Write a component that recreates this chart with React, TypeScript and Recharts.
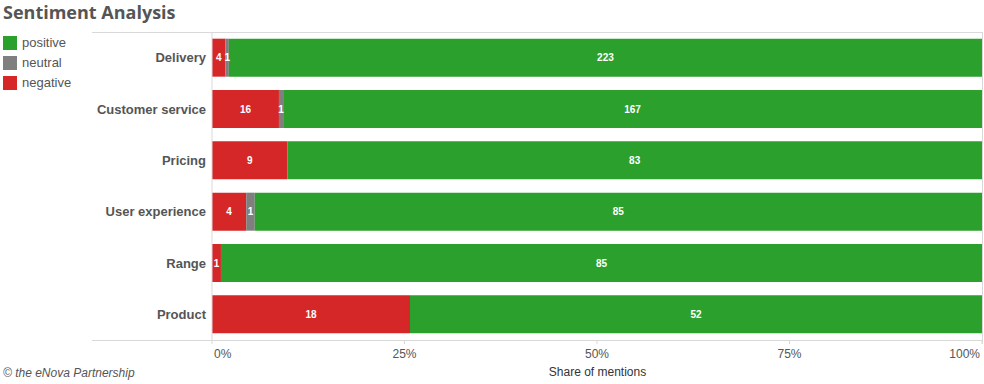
import React from "react";
import { BarChart, Bar, XAxis, YAxis, LabelList } from "recharts";

// Chart data
const categories = [
  "Delivery",
  "Customer service",
  "Pricing",
  "User experience",
  "Range",
  "Product",
];
const negative = [4, 16, 9, 4, 1, 18];
const neutral = [1, 1, 0, 1, 0, 0];
const positive = [223, 167, 83, 85, 85, 52];
const xTicks = [0, 0.25, 0.5, 0.75, 1];
const xTickLabels = ["0%", "25%", "50%", "75%", "100%"];

const colors = { positive: "#2ca02c", neutral: "#7f7f7f", negative: "#d62728" };
const legendItems = [
  { key: "positive", label: "positive" },
  { key: "neutral", label: "neutral" },
  { key: "negative", label: "negative" },
];

const data = categories.map((name, i) => ({
  name,
  negative: negative[i],
  neutral: neutral[i],
  positive: positive[i],
}));

const FONT = "Arial, 'Liberation Sans', sans-serif";
const LINE = "#d9d9d9";

const hideZero = (v: any) => (v ? v : "");

const XTick = (props: any) => {
  const { x, y, payload } = props;
  const idx = xTicks.indexOf(payload.value);
  const anchor = idx === 0 ? "start" : idx === xTicks.length - 1 ? "end" : "middle";
  return (
    <text
      x={x + (idx === 0 ? 2 : idx === xTicks.length - 1 ? -2 : 0)}
      y={y + 12}
      textAnchor={anchor}
      fill="#555"
      fontSize={12}
      fontFamily={FONT}
    >
      {xTickLabels[idx]}
    </text>
  );
};

const barLabel = {
  fill: "#fff",
  fontSize: 10,
  fontWeight: 700,
  fontFamily: FONT,
};

export default function App() {
  return (
    <div
      style={{
        position: "absolute",
        left: 0,
        top: 0,
        width: 984,
        height: 384,
        background: "#fff",
        fontFamily: FONT,
        overflow: "hidden",
      }}
    >
      {/* Title */}
      <div
        style={{
          position: "absolute",
          left: 3,
          top: 0,
          fontFamily: "'Open Sans', sans-serif",
          fontWeight: 700,
          fontSize: 18,
          color: "#555",
          lineHeight: "24px",
        }}
      >
        Sentiment Analysis
      </div>

      {/* Legend */}
      {legendItems.map((item, i) => (
        <div
          key={item.key}
          style={{
            position: "absolute",
            left: 3,
            top: 35 + i * 20,
            display: "flex",
            alignItems: "center",
            fontSize: 13,
            color: "#555",
          }}
        >
          <span
            style={{
              display: "inline-block",
              width: 14,
              height: 14,
              background: (colors as any)[item.key],
              marginRight: 5,
            }}
          />
          {item.label}
        </div>
      ))}

      {/* Frame lines */}
      <div style={{ position: "absolute", left: 92, top: 32, width: 891, height: 1, background: LINE }} />
      <div style={{ position: "absolute", left: 92, top: 340, width: 891, height: 1, background: LINE }} />
      <div style={{ position: "absolute", left: 982, top: 32, width: 1, height: 312, background: LINE }} />

      <div style={{ position: "absolute", left: 0, top: 0 }}>
        <BarChart
          width={984}
          height={384}
          data={data}
          layout="vertical"
          stackOffset="expand"
          margin={{ top: 32, right: 2, bottom: 14, left: 92 }}
          barCategoryGap="13%"
        >
          <XAxis
            type="number"
            domain={[0, 1]}
            ticks={xTicks}
            height={30}
            axisLine={false}
            tickLine={{ stroke: LINE }}
            tickSize={4}
            tick={<XTick />}
            interval={0}
          />
          <YAxis
            type="category"
            dataKey="name"
            width={120}
            axisLine={{ stroke: LINE }}
            tickLine={false}
            tickSize={0}
            tickMargin={6}
            tick={{ fill: "#555", fontSize: 13, fontWeight: 700, fontFamily: FONT }}
          />
          <Bar dataKey="negative" stackId="a" fill={colors.negative} isAnimationActive={false}>
            <LabelList dataKey="negative" position="center" formatter={hideZero} style={barLabel} />
          </Bar>
          <Bar dataKey="neutral" stackId="a" fill={colors.neutral} isAnimationActive={false}>
            <LabelList dataKey="neutral" position="center" formatter={hideZero} style={barLabel} />
          </Bar>
          <Bar dataKey="positive" stackId="a" fill={colors.positive} isAnimationActive={false}>
            <LabelList dataKey="positive" position="center" formatter={hideZero} style={barLabel} />
          </Bar>
        </BarChart>
      </div>

      {/* Axis title */}
      <div
        style={{
          position: "absolute",
          left: 213,
          width: 769,
          top: 365,
          textAlign: "center",
          fontSize: 12,
          color: "#333",
        }}
      >
        Share of mentions
      </div>

      {/* Credit */}
      <div
        style={{
          position: "absolute",
          left: 3,
          top: 366,
          fontSize: 12,
          fontStyle: "italic",
          color: "#555",
        }}
      >
        © the eNova Partnership
      </div>
    </div>
  );
}
